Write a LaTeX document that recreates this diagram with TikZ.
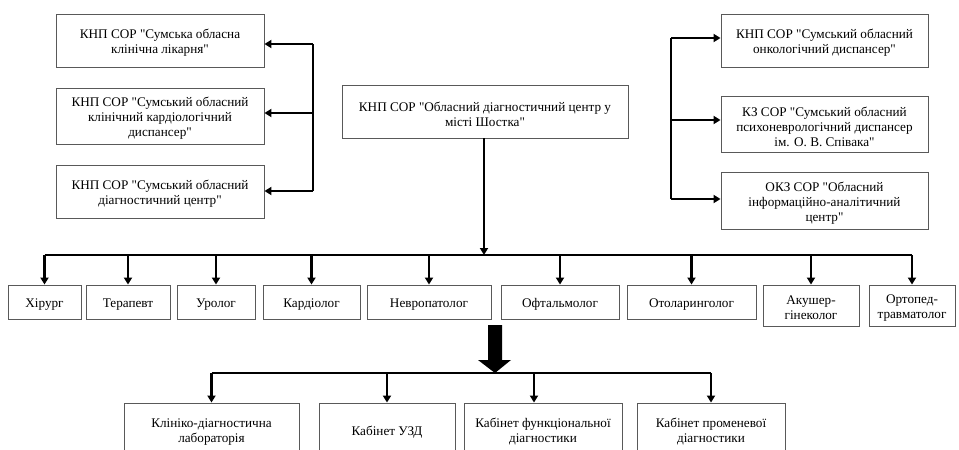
\documentclass[tikz,border=0pt]{standalone}
\usepackage{fontspec}
\setmainfont{Liberation Serif}[Ligatures=TeXOff]
\usetikzlibrary{arrows.meta}
\tikzset{
  box/.style={draw=black!65, line width=0.9pt, fill=white, inner sep=0pt},
  txt/.style={align=center, inner sep=0pt, font=\fontsize{13.2}{15}\selectfont},
  conn/.style={line width=2.4pt, -{Triangle[length=7pt,width=8pt]}},
  busline/.style={line width=2.4pt},
}
\newcommand\bx[6]{\node[box, minimum width={(#4-#2)*1pt}, minimum height={(#5-#3)*1pt}] (#1) at ({(#2+#4)/2},{(#3+#5)/2}) {};
  \node[txt] (#1t) at ([yshift=-2.5pt]#1.center) {#6};}
\begin{document}
\begin{tikzpicture}[x=1pt,y=-1pt]
\useasboundingbox (0,0) rectangle (959,450);
\clip (0,0) rectangle (959,450);
% top left
\bx{L1}{56}{14}{264}{67}{КНП СОР "Сумська обласна\\клінічна лікарня"}
\bx{L2}{56}{88}{264}{144}{КНП СОР "Сумський обласний\\клінічний кардіологічний\\диспансер"}
\bx{L3}{56}{165}{264}{218}{КНП СОР "Сумський обласний\\діагностичний центр"}
% center
\bx{C}{342}{85}{628}{138}{КНП СОР "Обласний діагностичний центр у\\місті Шостка"}
% top right
\bx{R1}{721}{14}{928}{67}{КНП СОР "Сумський обласний\\онкологічний диспансер"}
\bx{R2}{721}{96}{928}{152}{КЗ СОР "Сумський обласний\\психоневрологічний диспансер\\ім. О. В. Співака"}
\bx{R3}{721}{172}{928}{229}{ОКЗ СОР "Обласний\\інформаційно-аналітичний\\центр"}
% specialists
\bx{S1}{8}{285}{81}{319}{Хірург}
\bx{S2}{86}{285}{170}{319}{Терапевт}
\bx{S3}{177}{285}{255}{319}{Уролог}
\bx{S4}{263}{285}{360}{319}{Кардіолог}
\bx{S5}{367}{285}{491}{319}{Невропатолог}
\bx{S6}{501}{285}{619}{319}{Офтальмолог}
\bx{S7}{627}{285}{756}{319}{Отоларинголог}
\bx{S8}{763}{285}{859}{326}{Акушер-\\гінеколог}
\bx{S9}{869}{285}{955}{326}{Ортопед-\\травматолог}
% bottom
\bx{B1}{124}{403}{299}{456}{Клініко-діагностична\\лабораторія}
\bx{B2}{319}{403}{455}{456}{Кабінет УЗД}
\bx{B3}{464}{403}{622}{456}{Кабінет функціональної\\діагностики}
\bx{B4}{637}{403}{785}{456}{Кабінет променевої\\діагностики}
% left connectors
\coordinate (lc1) at (313,44);
\coordinate (lc2) at (313,113);
\coordinate (lc3) at (313,191);
\draw[busline] (lc1) -- (lc3);
\draw[conn] (lc1) -- (L1.east |- lc1);
\draw[conn] (lc2) -- (L2.east |- lc2);
\draw[conn] (lc3) -- (L3.east |- lc3);
% right connectors
\coordinate (rc1) at (671,38);
\coordinate (rc2) at (671,120);
\coordinate (rc3) at (671,199);
\draw[busline] (rc1) -- (rc3);
\draw[conn] (rc1) -- (R1.west |- rc1);
\draw[conn] (rc2) -- (R2.west |- rc2);
\draw[conn] (rc3) -- (R3.west |- rc3);
% main bus
\coordinate (bus) at (484,255);
\draw[conn] (C.south -| bus) -- (bus);
\draw[busline] (S1.north |- bus) -- (S9.north |- bus);
\foreach \s in {S1,S2,S3,S4,S5,S6,S7,S8,S9}
  \draw[conn] (\s.north |- bus) -- (\s.north);
% big arrow
\fill (488,325) -- (502,325) -- (502,360) -- (511,360) -- (495,373) -- (478,360) -- (488,360) -- cycle;
% bottom bus
\coordinate (bb) at (495,373);
\coordinate (b3x) at (534,373);
\draw[busline] (B1.north |- bb) -- (B4.north |- bb);
\draw[conn] (B1.north |- bb) -- (B1.north);
\draw[conn] (B2.north |- bb) -- (B2.north);
\draw[conn] (b3x) -- (b3x |- B3.north);
\draw[conn] (B4.north |- bb) -- (B4.north);
\end{tikzpicture}
\end{document}
